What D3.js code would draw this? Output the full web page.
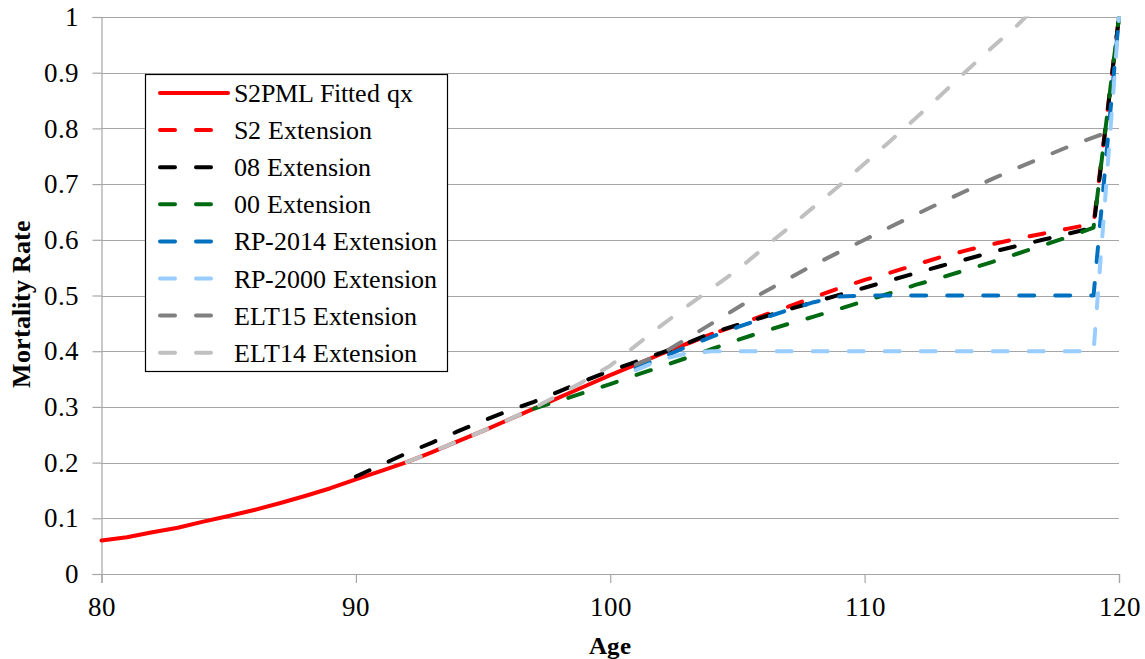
<!DOCTYPE html>
<html>
<head>
<meta charset="utf-8">
<script src="https://cdn.jsdelivr.net/npm/d3@7/dist/d3.min.js"></script>
<style>
  @font-face { font-family: "ChartSerif"; font-weight: 400;
    src: local("Liberation Serif"), local("LiberationSerif"), local("LiberationSerif-Regular"); }
  @font-face { font-family: "ChartSerif"; font-weight: 700;
    src: local("Liberation Serif Bold"), local("LiberationSerif-Bold"); }
  html, body { margin: 0; padding: 0; background: #fff; }
  body { font-family: "ChartSerif", "Liberation Serif", serif; }
  #wrap { position: relative; width: 1145px; height: 659px; }
  svg { display: block; position: absolute; left: 0; top: 0; }
  svg text { font-family: "ChartSerif", "Liberation Serif", serif; }
</style>
</head>
<body>
<div id="wrap"><svg id="chart" width="1145" height="659"></svg></div>
<script>
// Ages on the x axis (one entry per year)
const ages = [80,81,82,83,84,85,86,87,88,89,90,91,92,93,94,95,96,97,98,99,100,
              101,102,103,104,105,106,107,108,109,110,111,112,113,114,115,116,117,118,119,120];

// Mortality rates per age; null where a series has no value
const s2pmlFitted = [0.060,0.066,0.075,0.083,0.094,0.104,0.115,0.127,0.140,0.154,0.170,
  0.185,0.201,0.219,0.238,0.257,0.277,0.297,0.317,0.337,0.357,
  0.376,0.395,0.413,0.431,null,null,null,null,null,null,
  null,null,null,null,null,null,null,null,null,null];
const s2Ext = [null,null,null,null,null,null,null,null,null,null,null,
  null,null,null,null,null,null,null,null,null,null,
  null,null,0.413,0.431,0.447,0.464,0.480,0.497,0.513,0.528,
  0.541,0.555,0.569,0.581,0.592,0.602,0.611,0.620,0.629,1.0];
const ext08 = [null,null,null,null,null,null,null,null,null,null,0.175,
  0.196,0.217,0.236,0.256,0.275,0.293,0.309,0.328,0.347,0.365,
  0.381,0.397,0.414,0.433,0.447,0.461,0.475,0.488,0.501,0.514,
  0.527,0.540,0.553,0.565,0.578,0.589,0.600,0.611,0.622,1.0];
const ext00 = [null,null,null,null,null,null,null,null,null,null,null,
  null,null,null,null,null,null,0.297,0.311,0.326,0.341,
  0.357,0.372,0.388,0.404,0.420,0.435,0.449,0.462,0.476,0.490,
  0.504,0.519,0.532,0.546,0.560,0.575,0.590,0.605,0.622,1.0];
const rp2014Ext = [null,null,null,null,null,null,null,null,null,null,null,
  null,null,null,null,null,null,null,null,null,null,
  0.370,0.388,0.408,0.426,0.443,0.459,0.474,0.488,0.498,0.500,
  0.500,0.500,0.500,0.500,0.500,0.500,0.500,0.500,0.500,1.0];
const rp2000Ext = [null,null,null,null,null,null,null,null,null,null,null,
  null,null,null,null,null,null,null,null,null,null,
  0.366,0.385,0.396,0.400,0.400,0.400,0.400,0.400,0.400,0.400,
  0.400,0.400,0.400,0.400,0.400,0.400,0.400,0.400,0.400,1.0];
const elt15Ext = [null,null,null,null,null,null,null,null,null,null,null,
  null,null,null,null,null,null,null,null,null,null,
  0.376,0.395,0.422,0.450,0.478,0.505,0.530,0.555,0.578,0.600,
  0.623,0.645,0.667,0.688,0.709,0.729,0.748,0.767,0.784,0.800];
const elt14Ext = [null,null,null,null,null,null,null,null,null,null,null,
  null,0.201,0.219,0.238,0.257,0.277,0.298,0.322,0.347,0.374,
  0.410,0.446,0.480,0.513,0.546,0.584,0.621,0.659,0.697,0.737,
  0.777,0.818,0.860,0.903,0.945,0.985,1.030,null,null,null];

// Axis ticks
const xTicks = [80, 90, 100, 110, 120];
const yTicks = [0, 0.1, 0.2, 0.3, 0.4, 0.5, 0.6, 0.7, 0.8, 0.9, 1];

// Series names, colours and line styles (drawn in this order)
const seriesNames  = ["S2PML Fitted qx","S2 Extension","08 Extension","00 Extension",
                      "RP-2014 Extension","RP-2000 Extension","ELT15 Extension","ELT14 Extension"];
const seriesValues = [s2pmlFitted, s2Ext, ext08, ext00, rp2014Ext, rp2000Ext, elt15Ext, elt14Ext];
const seriesColors = ["#ff0000","#ff0000","#000000","#006a12","#0070c0","#99ccff","#808080","#c0c0c0"];
const seriesDashed = [false, true, true, true, true, true, true, true];

const FONT = '"ChartSerif", "Liberation Serif", serif';

const svg = d3.select("#chart");
const plotLeft = 101.5, plotRight = 1119, plotTop = 17, plotBottom = 574;

const x = d3.scaleLinear().domain([80, 120]).range([plotLeft, plotRight]);
const y = d3.scaleLinear().domain([0, 1]).range([plotBottom, plotTop]);

const gridColor = "#a6a6a6";

// Plot-area clip so values above 1 are cut at the top edge
svg.append("defs").append("clipPath").attr("id", "plot-clip")
  .append("rect")
  .attr("x", plotLeft - 4).attr("y", plotTop - 0.5)
  .attr("width", plotRight - plotLeft + 8).attr("height", plotBottom - plotTop + 4);

// Horizontal gridlines
svg.append("g")
  .selectAll("line")
  .data(yTicks.filter(t => t > 0))
  .join("line")
  .attr("x1", plotLeft).attr("x2", plotRight)
  .attr("y1", d => Math.round(y(d)) + 0.5).attr("y2", d => Math.round(y(d)) + 0.5)
  .attr("stroke", gridColor).attr("stroke-width", 1.2);

// Y axis
const yAxis = svg.append("g")
  .attr("transform", `translate(${plotLeft},0)`)
  .call(d3.axisLeft(y).tickValues(yTicks).tickSize(9).tickPadding(14)
        .tickFormat(d => d3.format("~g")(d)));
yAxis.attr("font-family", null).attr("font-size", 27);
yAxis.select(".domain").attr("stroke", gridColor).attr("stroke-width", 1.2);
yAxis.selectAll(".tick line").attr("stroke", gridColor).attr("stroke-width", 1.2);
yAxis.selectAll(".tick text").attr("fill", "#000").style("font-family", FONT);

// X axis
const xAxis = svg.append("g")
  .attr("transform", `translate(0,${plotBottom})`)
  .call(d3.axisBottom(x).tickValues(xTicks).tickSize(9).tickPadding(14)
        .tickFormat(d3.format("d")));
xAxis.attr("font-family", null).attr("font-size", 27);
xAxis.select(".domain").attr("stroke", gridColor).attr("stroke-width", 1.2);
xAxis.selectAll(".tick line").attr("stroke", gridColor).attr("stroke-width", 1.2);
xAxis.selectAll(".tick text").attr("fill", "#000").style("font-family", FONT);

// Axis titles
svg.append("text")
  .attr("x", x(100)).attr("y", 654)
  .attr("text-anchor", "middle")
  .style("font-family", FONT).attr("font-size", 25).attr("font-weight", "bold")
  .text("Age");
svg.append("text")
  .attr("transform", `translate(30,${(plotTop + plotBottom) / 2 + 8}) rotate(-90)`)
  .attr("text-anchor", "middle")
  .style("font-family", FONT).attr("font-size", 25.5).attr("font-weight", "bold")
  .text("Mortality Rate");

// Series lines
const line = d3.line()
  .defined(d => d.v != null)
  .x(d => x(d.age))
  .y(d => y(d.v));

const lines = svg.append("g").attr("clip-path", "url(#plot-clip)");
seriesValues.forEach((vals, i) => {
  const pts = ages.map((a, j) => ({ age: a, v: vals[j] }));
  lines.append("path")
    .datum(pts)
    .attr("d", line)
    .attr("fill", "none")
    .attr("stroke", seriesColors[i])
    .attr("stroke-width", 4)
    .attr("stroke-linecap", "round")
    .attr("stroke-linejoin", "round")
    .attr("stroke-dasharray", seriesDashed[i] ? "15,21" : null);
});

// Legend
const legend = svg.append("g");
legend.append("rect")
  .attr("x", 145.5).attr("y", 74.5).attr("width", 302).attr("height", 297)
  .attr("fill", "#fff").attr("stroke", "#000").attr("stroke-width", 1.2);
seriesNames.forEach((name, i) => {
  const cy = 93 + i * 37.1;
  legend.append("line")
    .attr("x1", 160).attr("x2", 228).attr("y1", cy).attr("y2", cy)
    .attr("stroke", seriesColors[i]).attr("stroke-width", 4)
    .attr("stroke-linecap", "round")
    .attr("stroke-dasharray", seriesDashed[i] ? "15,21" : null);
  legend.append("text")
    .attr("x", 234).attr("y", cy + 9)
    .style("font-family", FONT).attr("font-size", 26)
    .text(name);
});
</script>
</body>
</html>
